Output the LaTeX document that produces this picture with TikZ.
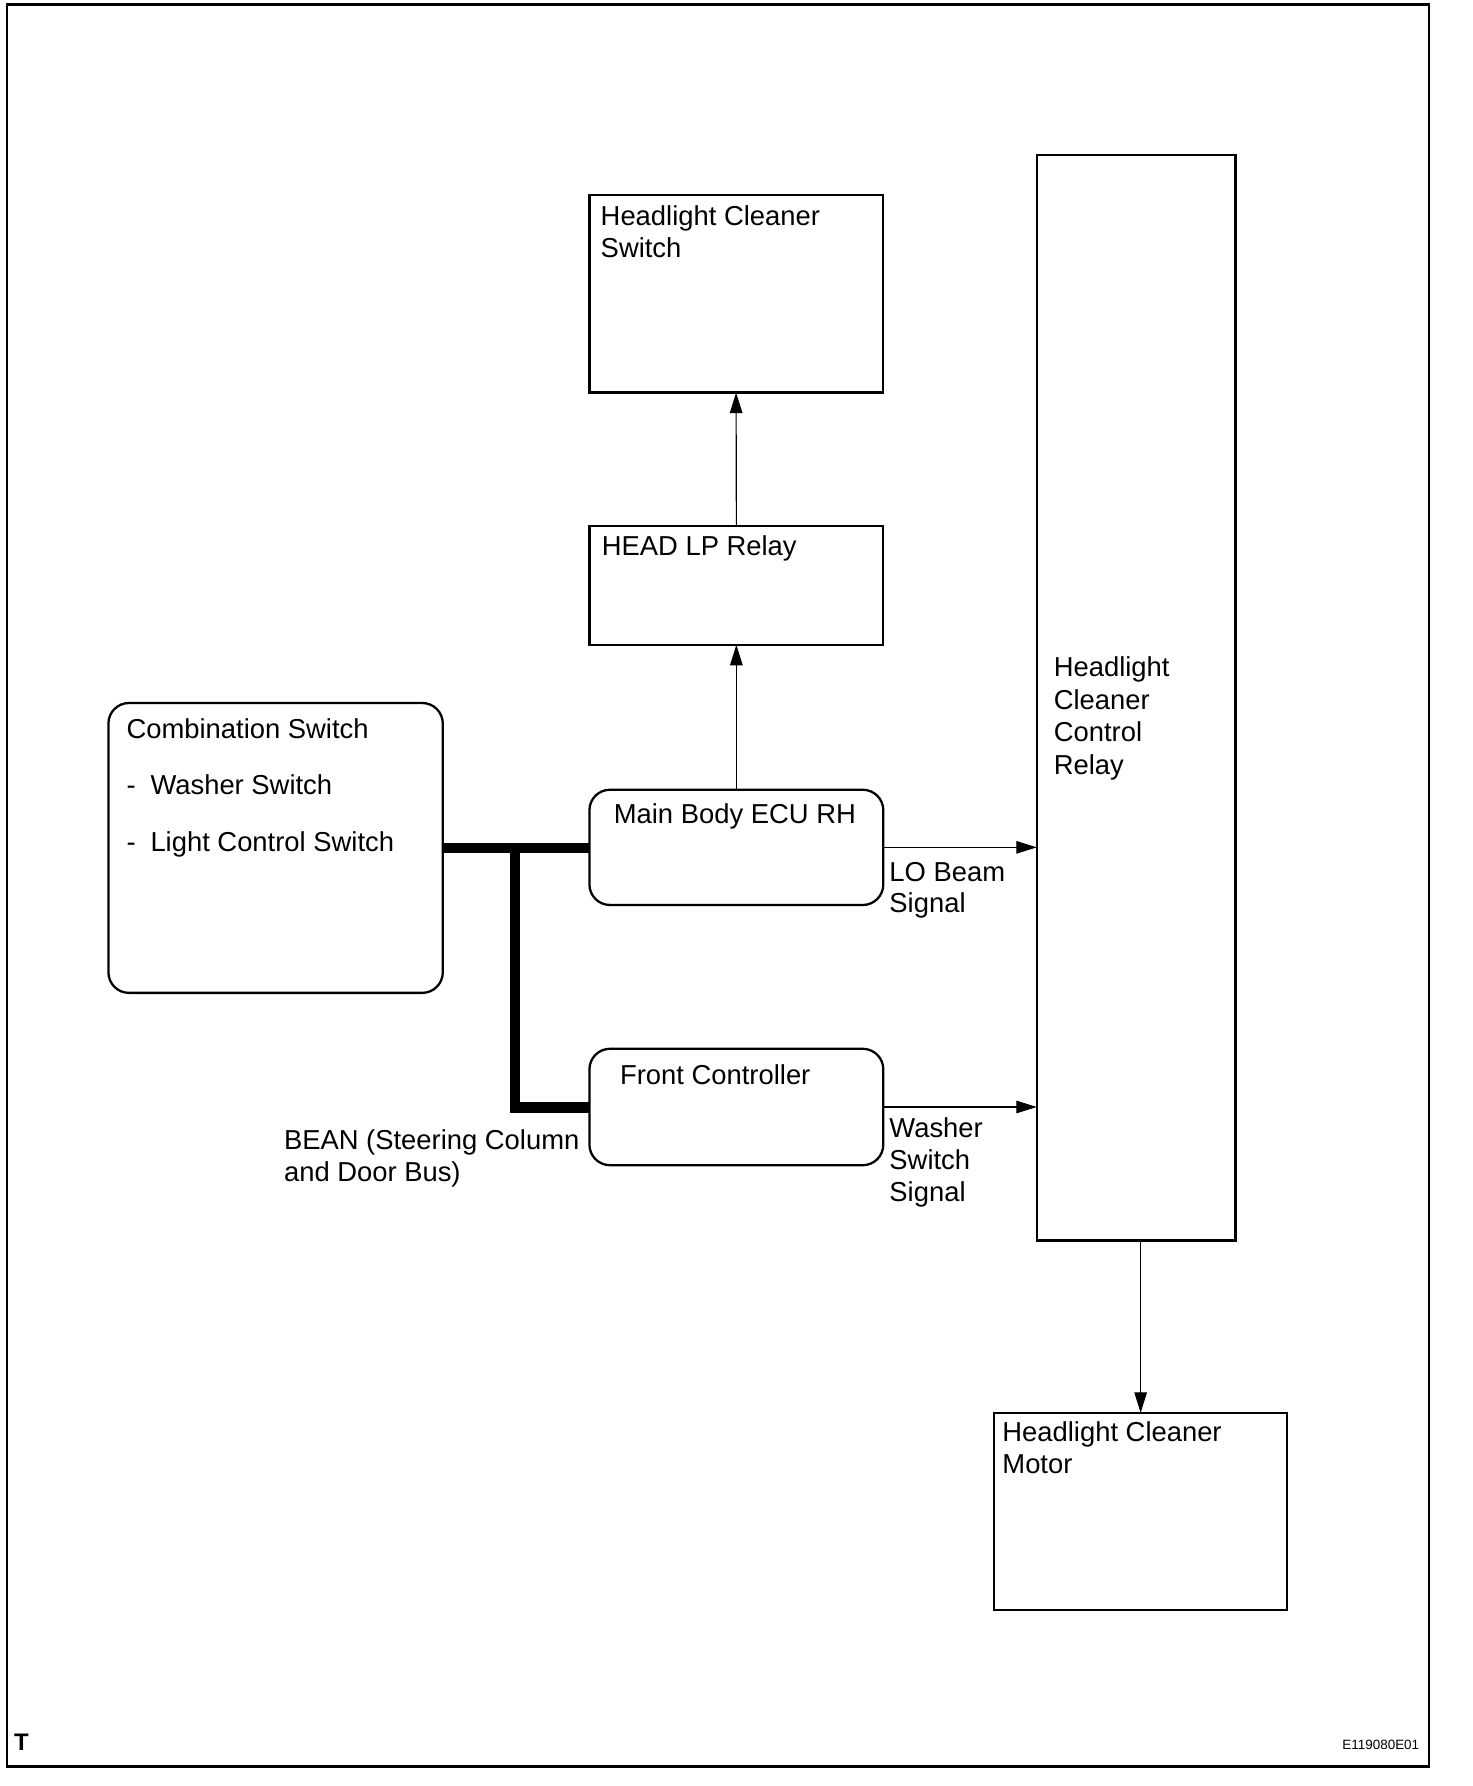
\documentclass[tikz,border=0pt]{standalone}
\usepackage{fontspec}
\setmainfont{Liberation Sans}
\usetikzlibrary{arrows.meta}
\begin{document}
\begin{tikzpicture}[x=0.5pt,y=-0.5pt,
  box/.style={draw, line width=1pt, rectangle, inner sep=0pt, outer sep=0pt, anchor=north west},
  rbox/.style={box, rounded corners=9pt},
  lbl/.style={anchor=base west, inner sep=0pt, font=\fontsize{12pt}{14pt}\selectfont},
  conn/.style={line width=0.5pt, -{Triangle[length=9pt,width=5.5pt]}},
  bus/.style={line width=4.5pt}]
\useasboundingbox (0,0) rectangle (1290,1565);
\draw[line width=1pt] (6,4) rectangle (1252,1548);

% boxes
\node[box, minimum width=128.5pt, minimum height=86.5pt] (hls) at (516.5,171) {};
\node[box, minimum width=128.75pt, minimum height=52pt] (hlr) at (516.5,461) {};
\node[rbox, minimum width=128.75pt, minimum height=50.5pt] (mb) at (516.5,692) {};
\node[rbox, minimum width=128.75pt, minimum height=51pt] (fc) at (516.5,919) {};
\node[rbox, minimum width=146.5pt, minimum height=127pt] (cs) at (95,616) {};
\node[box, minimum width=87pt, minimum height=475.5pt] (relay) at (908.5,136) {};
\node[box, minimum width=128.5pt, minimum height=86.5pt] (motor) at (871,1238) {};

% texts
\node[lbl] (t1) at (526,198) {Headlight Cleaner};
\node[lbl] (t2) at (526,226) {Switch};
\node[lbl] (t3) at (527,487) {HEAD LP Relay};
\node[lbl] (t4) at (537.5,722) {Main Body ECU RH};
\node[lbl] (t5) at (543,950) {Front Controller};
\node[lbl] (t6) at (110.5,647) {Combination Switch};
\node[lbl] (t7) at (110.5,696) {\makebox[10.5pt][l]{-}Washer Switch};
\node[lbl] (t8) at (110.5,746) {\makebox[10.5pt][l]{-}Light Control Switch};
\node[lbl] (t9) at (248.5,1007) {BEAN (Steering Column};
\node[lbl] (t10) at (248.5,1035) {and Door Bus)};
\node[lbl] (t11) at (923,593) {Headlight};
\node[lbl] (t12) at (923,621.5) {Cleaner};
\node[lbl] (t13) at (923,650) {Control};
\node[lbl] (t14) at (923,678.5) {Relay};
\node[lbl] (t15) at (779,772) {LO Beam};
\node[lbl] (t16) at (779,800) {Signal};
\node[lbl] (t17) at (779,997) {Washer};
\node[lbl] (t18) at (779,1025) {Switch};
\node[lbl] (t19) at (779,1053) {Signal};
\node[lbl] (t20) at (878,1263) {Headlight Cleaner};
\node[lbl] (t21) at (878,1291) {Motor};
\node[anchor=base west, inner sep=0pt, font=\fontsize{10.5pt}{12pt}\selectfont\bfseries] (tT) at (12,1534) {T};
\node[anchor=base east, inner sep=0pt, font=\fontsize{5.9pt}{7pt}\selectfont] (tE) at (1244,1533) {E119080E01};

% bus
\coordinate (j1) at (451,743);
\coordinate (j2) at (451,970.5);
\draw[bus] (cs.east |- j1) -- (mb.west |- j1);
\draw[bus] (j1) -- (j2) -- (fc.west |- j2);

% connectors
\draw[conn] (mb.north) -- (hlr.south);
\draw[conn] (hlr.north) -- (hls.south);
\draw[conn] (mb.east) -- (relay.west |- mb.east);
\draw[conn] (fc.east) -- (relay.west |- fc.east);
\draw[conn] (motor.north |- relay.south) -- (motor.north);
\end{tikzpicture}
\end{document}
